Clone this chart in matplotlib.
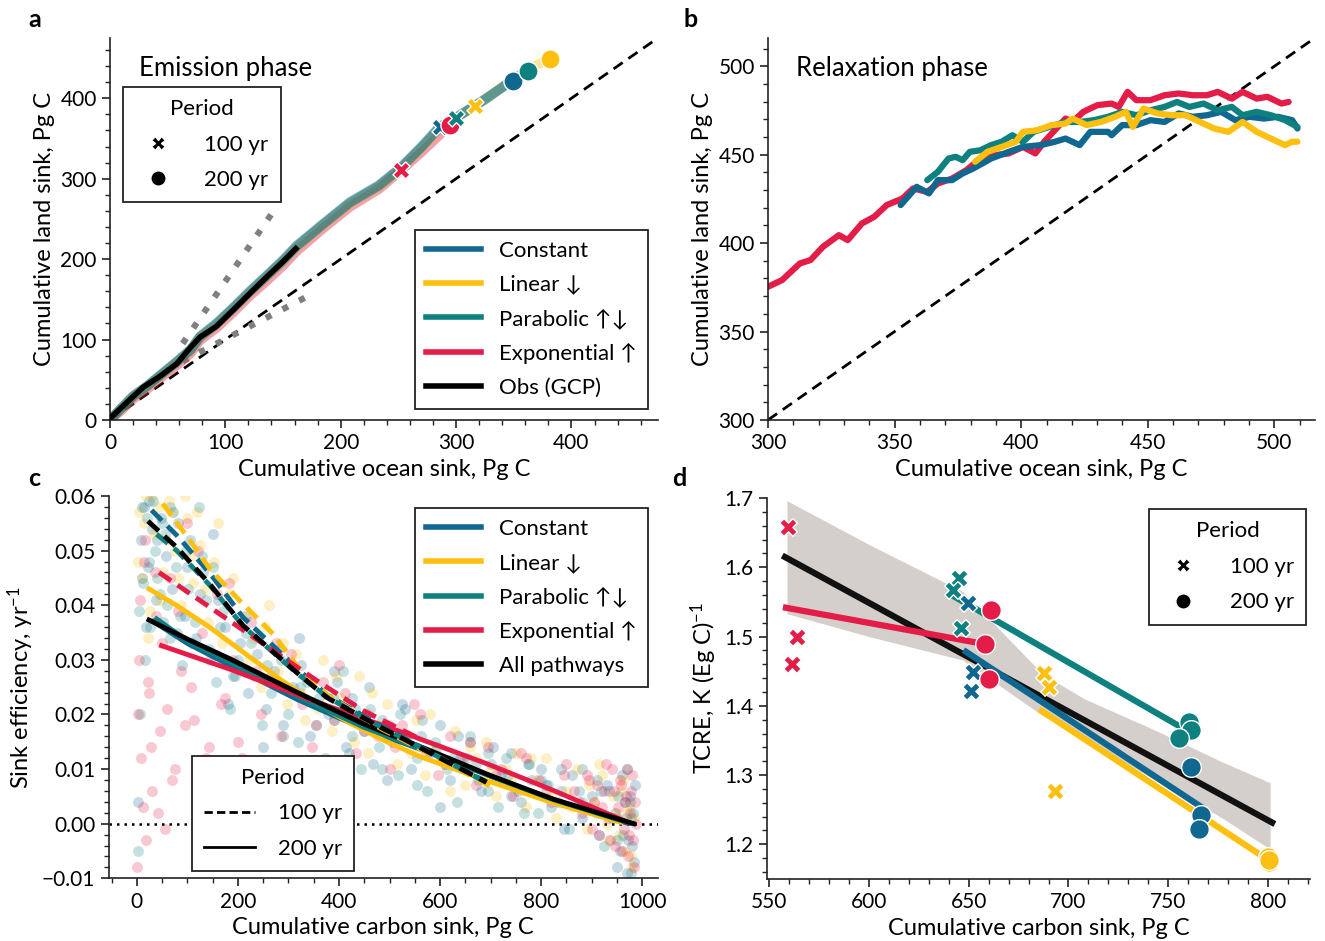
import numpy as np
import matplotlib
matplotlib.use('Agg')
import matplotlib.pyplot as plt
from matplotlib.lines import Line2D
from matplotlib.ticker import MultipleLocator

plt.rcParams['font.family'] = ['Lato', 'DejaVu Sans']
plt.rcParams['mathtext.fontset'] = 'custom'
plt.rcParams['mathtext.rm'] = 'Lato'
plt.rcParams['mathtext.it'] = 'Lato:italic'
plt.rcParams['mathtext.default'] = 'regular'

# ---------------- colours / names ----------------
pathways = ['Constant', 'Linear ↓', 'Parabolic ↑↓', 'Exponential ↑']
colors = ['#10678f', '#fdc010', '#0e8080', '#e41c48']

# ---------------- panel a: emission phase ----------------
a_const_x = [0, 10, 20, 32, 43, 58, 70, 78, 92, 107, 121, 136, 150, 162, 183, 208, 233, 252, 270, 286, 300, 326, 349]
a_const_y = [0, 15, 30, 42, 55, 73, 88, 104, 120, 140, 160, 180, 199, 217, 242, 271, 292, 314, 340, 365, 376, 400, 422]
a_lin_x = [0, 10, 20, 32, 43, 58, 70, 78, 92, 107, 121, 136, 150, 162, 183, 208, 233, 252, 270, 286, 300, 316, 340, 362, 381]
a_lin_y = [0, 14, 29, 41, 54, 72, 86, 103, 118, 139, 158, 178, 197, 215, 240, 269, 290, 312, 338, 362, 375, 390, 414, 436, 449]
a_par_x = [0, 10, 20, 32, 43, 58, 70, 78, 92, 107, 121, 136, 150, 162, 183, 208, 233, 252, 270, 286, 300, 326, 349, 362]
a_par_y = [0, 15, 29, 42, 55, 72, 87, 103, 119, 139, 159, 179, 198, 216, 241, 270, 291, 313, 339, 364, 376, 399, 423, 434]
a_exp_x = [0, 10, 20, 32, 43, 58, 70, 78, 92, 107, 121, 136, 150, 162, 183, 208, 233, 252, 270, 295]
a_exp_y = [0, 12, 26, 38, 51, 68, 83, 99, 114, 134, 154, 173, 192, 210, 236, 265, 287, 310, 333, 367]
a_obs_x = [0, 20, 29, 43, 58, 69, 78, 92, 107, 121, 136, 150, 161]
a_obs_y = [2, 29, 41, 54, 70, 89, 103, 116, 137, 157, 178, 197, 213]
a_dot_up_x = [63, 140]
a_dot_up_y = [95, 256]
a_dot_lo_x = [63, 177]
a_dot_lo_y = [73, 158]
# 100 yr (x) and 200 yr (o) markers: Constant, Linear, Parabolic, Exponential
a_x100 = [286, 316, 300, 252]
a_y100 = [364, 390, 376, 311]
a_x200 = [349, 381, 362, 295]
a_y200 = [422, 449, 434, 367]

# ---------------- panel b: relaxation phase ----------------
b_exp_x = [300, 305.6, 312.6, 316.8, 321.7, 328.0, 331.5, 337.1, 342.0, 346.9, 353.1, 357.3, 362.9, 367.1,
           372.7, 378.3, 383.9, 389.5, 395.1, 400.7, 405.6, 409.1, 417.5, 420.3, 424.5, 430.1, 435.7, 438.5,
           442.0, 445.5, 451.0, 456.6, 462.2, 467.8, 473.4, 477.6, 483.2, 487.4, 493.0, 497.2, 502.8, 505.6]
b_exp_y = [375.3, 379.1, 388.5, 390.4, 397.9, 404.5, 401.7, 411.1, 414.9, 421.5, 425.2, 430.9, 429.0, 433.7,
           436.5, 441.2, 447.8, 449.7, 450.7, 454.4, 450.7, 457.3, 470.4, 468.5, 474.2, 478.0, 478.9, 477.0,
           485.5, 480.8, 480.8, 483.6, 484.6, 483.6, 483.6, 485.5, 481.7, 485.5, 481.7, 482.7, 478.9, 479.8]
b_const_x = [352.4, 358.7, 363.6, 367.1, 372.7, 376.9, 381.1, 388.1, 395.1, 400.7, 407.7, 413.3, 417.5, 423.1,
             427.3, 434.3, 435.7, 439.9, 445.5, 451.0, 456.6, 462.2, 467.8, 473.4, 479.0, 484.6, 490.2, 495.8,
             501.4, 507.0, 509.1]
b_const_y = [421.5, 431.8, 428.1, 435.6, 435.6, 439.4, 442.2, 447.8, 451.6, 454.4, 455.4, 457.3, 459.1, 455.4,
             462.9, 462.9, 461.0, 466.7, 466.7, 469.5, 468.5, 473.3, 471.4, 472.3, 474.2, 469.5, 471.4, 470.4,
             471.4, 469.5, 464.8]
b_par_x = [362.9, 367.1, 371.3, 374.1, 376.9, 379.7, 383.9, 388.1, 392.3, 396.5, 400.7, 404.9, 409.1, 413.3,
           417.5, 423.1, 428.7, 434.3, 439.9, 445.5, 451.0, 456.6, 461.5, 466.4, 472.0, 477.6, 483.2, 487.4,
           493.0, 498.6, 504.2, 509.1]
b_par_y = [435.6, 440.3, 447.8, 448.8, 446.9, 451.6, 452.5, 455.4, 457.3, 461.0, 457.3, 462.9, 464.8, 466.7,
           468.5, 468.5, 469.5, 471.4, 474.2, 472.3, 475.1, 477.0, 479.8, 477.0, 478.9, 475.1, 477.0, 472.3,
           474.2, 472.3, 469.5, 465.7]
b_lin_x = [381.8, 386.7, 392.3, 397.9, 400.7, 406.3, 411.9, 417.5, 420.3, 425.9, 431.5, 437.1, 441.3, 444.1,
           448.3, 453.8, 459.4, 465.0, 470.6, 476.2, 481.8, 487.4, 493.0, 498.6, 504.2, 507.0, 509.1]
b_lin_y = [446.0, 451.6, 454.4, 457.3, 462.9, 463.8, 466.7, 467.6, 470.4, 466.7, 468.5, 471.4, 474.2, 465.7,
           476.1, 473.3, 472.3, 472.3, 468.5, 464.8, 462.9, 468.5, 462.9, 459.1, 455.4, 457.3, 457.3]

# ---------------- panel c: sink efficiency (ensemble points) ----------------
c_const_x = [3, 8, 15, 22, 30, 38, 48, 58, 70, 82, 95, 105, 118, 130, 145, 160, 175, 190, 205, 220,
             238, 255, 272, 290, 308, 325, 342, 360, 378, 396, 414, 432, 450, 468, 486, 505, 524, 543, 562, 580,
             600, 620, 640, 660, 680, 700, 720, 740, 760, 780, 800, 820, 840, 860, 880, 900, 915, 930, 945, 955,
             965, 972, 978, 983,
             10, 18, 25, 40, 52, 65, 80, 100, 125, 150, 180, 215, 250, 285, 320, 355, 390, 425, 460, 495,
             530, 565, 600, 635, 670, 705, 740, 775, 810, 845, 880, 910, 935, 950, 960, 968, 975, 980, 985, 970]
c_const_y = [0.004, 0.052, 0.058, 0.047, 0.054, 0.041, 0.056, 0.049, 0.043, 0.055,
             0.038, 0.052, 0.034, 0.046, 0.030, 0.041, 0.036, 0.027, 0.033, 0.024,
             0.031, 0.021, 0.028, 0.018, 0.025, 0.029, 0.016, 0.023, 0.020, 0.026,
             0.014, 0.021, 0.017, 0.011, 0.019, 0.015, 0.022, 0.010, 0.016, 0.013,
             0.018, 0.008, 0.012, 0.015, 0.006, 0.011, 0.009, 0.013, 0.004, 0.008,
             0.010, 0.003, 0.006, 0.009, 0.001, 0.005, -0.002, 0.007, 0.002, -0.005,
             0.004, -0.003, 0.001, -0.007,
             0.045, 0.036, 0.059, 0.052, 0.037, 0.058, 0.035, 0.047, 0.042, 0.053,
             0.022, 0.038, 0.014, 0.030, 0.034, 0.011, 0.028, 0.023, 0.025, 0.008,
             0.021, 0.019, 0.003, 0.016, 0.011, 0.014, 0.005, 0.011, 0.007, -0.001,
             0.010, 0.002, 0.006, -0.008, 0.009, 0.001, 0.005, -0.004, 0.007, -0.009]
c_lin_x = [5, 10, 18, 26, 34, 42, 52, 63, 75, 88, 100, 112, 125, 140, 152, 168, 182, 198, 214, 230,
           246, 262, 280, 298, 315, 332, 350, 368, 386, 404, 422, 440, 458, 476, 495, 514, 532, 552, 570, 590,
           610, 630, 650, 670, 690, 710, 730, 750, 770, 790, 810, 830, 850, 870, 890, 905, 920, 935, 948, 958,
           966, 973, 979, 984,
           3, 14, 22, 30, 46, 58, 70, 82, 95, 108, 120, 135, 160, 190, 222, 254, 290, 324, 358, 394,
           430, 466, 504, 542, 580, 620, 660, 700, 740, 780, 820, 860, 895, 915, 930, 942, 953, 962, 970, 977]
c_lin_y = [0.057, 0.045, 0.060, 0.039, 0.053, 0.058, 0.046, 0.059, 0.050, 0.040,
           0.056, 0.044, 0.051, 0.037, 0.048, 0.033, 0.042, 0.029, 0.038, 0.034,
           0.025, 0.040, 0.028, 0.022, 0.031, 0.019, 0.026, 0.030, 0.017, 0.023,
           0.020, 0.027, 0.013, 0.018, 0.022, 0.011, 0.016, 0.019, 0.009, 0.014,
           0.011, 0.017, 0.007, 0.012, 0.015, 0.005, 0.010, 0.013, 0.003, 0.008,
           0.012, 0.001, 0.006, 0.010, -0.001, 0.004, 0.009, -0.003, 0.002, 0.006,
           -0.005, 0.003, -0.008, 0.001,
           0.048, 0.055, 0.034, 0.060, 0.041, 0.052, 0.057, 0.045, 0.060, 0.049,
           0.057, 0.043, 0.055, 0.045, 0.030, 0.036, 0.033, 0.024, 0.021, 0.027,
           0.015, 0.024, 0.017, 0.013, 0.020, 0.006, 0.014, 0.010, 0.008, 0.012,
           0.005, 0.003, 0.007, 0.011, 0.000, 0.005, -0.002, 0.008, 0.002, -0.006]
c_par_x = [2, 7, 13, 20, 27, 36, 45, 55, 66, 78, 90, 102, 115, 128, 142, 156, 170, 185, 200, 216,
           232, 248, 265, 282, 300, 318, 336, 354, 372, 390, 408, 426, 444, 462, 480, 498, 517, 536, 555, 574,
           594, 614, 634, 654, 674, 694, 714, 734, 754, 774, 794, 814, 834, 854, 874, 894, 910, 925, 940, 952,
           962, 970, 977, 982,
           4, 10, 16, 24, 32, 40, 50, 60, 72, 85, 97, 110, 123, 136, 150, 165, 195, 225, 258, 290,
           322, 355, 388, 420, 452, 486, 520, 555, 590, 625, 660, 695, 730, 765, 800, 840, 880, 918, 950, 975]
c_par_y = [-0.005, 0.020, 0.044, 0.056, 0.036, 0.050, 0.042, 0.053, 0.034, 0.047,
           0.029, 0.043, 0.037, 0.049, 0.032, 0.026, 0.039, 0.021, 0.030, 0.035,
           0.027, 0.018, 0.024, 0.032, 0.020, 0.015, 0.026, 0.022, 0.012, 0.019,
           0.028, 0.016, 0.010, 0.021, 0.014, 0.018, 0.009, 0.016, 0.012, 0.006,
           0.014, 0.010, 0.004, 0.012, 0.008, 0.013, 0.003, 0.009, 0.006, 0.011,
           0.002, 0.007, 0.004, -0.001, 0.006, 0.003, 0.008, -0.004, 0.001, 0.005,
           -0.002, 0.010, -0.009, 0.002,
           0.039, 0.058, 0.030, 0.048, 0.059, 0.045, 0.055, 0.040, 0.057, 0.038,
           0.050, 0.033, 0.058, 0.041, 0.047, 0.036, 0.027, 0.033, 0.029, 0.016,
           0.025, 0.018, 0.023, 0.013, 0.019, 0.010, 0.020, 0.007, 0.015, 0.012,
           0.016, 0.006, 0.012, 0.002, 0.008, 0.010, 0.004, 0.006, -0.003, 0.004]
c_exp_x = [0, 4, 9, 14, 19, 25, 31, 38, 46, 55, 65, 76, 88, 100, 114, 128, 143, 158, 174, 190,
           208, 226, 245, 265, 285, 305, 326, 347, 368, 390, 412, 434, 456, 478, 500, 524, 548, 572, 596, 620,
           645, 670, 695, 720, 745, 770, 795, 820, 845, 865, 880, 895, 905, 915, 925, 932, 940, 946, 952, 958,
           963, 968, 972, 976, 979, 982, 985, 987,
           2, 6, 12, 17, 23, 28, 35, 42, 50, 60, 70, 82, 95, 108, 122, 136, 150, 166, 182, 200,
           236, 275, 315, 355, 400, 450, 510, 560, 610, 660, 710, 760, 810, 850, 875, 890, 900, 910, 920, 928,
           936, 944, 950, 955, 960, 965, 970, 974, 978, 983]
c_exp_y = [-0.008, 0.030, 0.012, 0.048, -0.003, 0.024, 0.006, 0.038, 0.017, -0.001,
           0.045, 0.010, 0.028, 0.055, 0.019, 0.035, 0.014, 0.042, 0.023, 0.030,
           0.012, 0.037, 0.020, 0.027, 0.016, 0.031, 0.022, 0.014, 0.026, 0.019,
           0.024, 0.013, 0.020, 0.016, 0.010, 0.018, 0.022, 0.013, 0.009, 0.016,
           0.012, 0.007, 0.014, 0.010, 0.005, 0.012, 0.008, 0.004, 0.009, 0.006,
           0.002, 0.008, 0.004, -0.002, 0.006, 0.001, 0.010, -0.004, 0.003, 0.007,
           -0.001, 0.005, -0.006, 0.002, 0.009, -0.003, 0.004, 0.000,
           0.020, 0.041, 0.003, 0.052, 0.026, 0.014, 0.046, 0.002, 0.033, 0.021,
           0.008, 0.039, 0.018, 0.025, 0.050, 0.012, 0.031, 0.022, 0.044, 0.015,
           0.028, 0.033, 0.024, 0.018, 0.029, 0.017, 0.014, 0.020, 0.011, 0.015,
           0.009, 0.013, 0.006, 0.011, 0.004, 0.009, -0.001, 0.007, 0.003, 0.011,
           -0.003, 0.006, 0.001, 0.008, -0.005, 0.004, 0.010, -0.002, 0.006, -0.008]

# fitted efficiency curves, 200 yr (solid)
c200_const_x = [33, 100, 184, 316, 448, 580, 700, 824, 970]
c200_const_y = [0.0370, 0.0330, 0.0290, 0.0228, 0.0174, 0.0130, 0.0087, 0.0044, 0.0001]
c200_lin_x = [24, 80, 145, 215, 284, 350, 420, 490, 560, 692, 824, 956]
c200_lin_y = [0.0430, 0.0399, 0.0359, 0.0311, 0.0264, 0.0223, 0.0185, 0.0152, 0.0123, 0.0079, 0.0038, 0.0003]
c200_par_x = [39, 100, 184, 316, 448, 580, 700, 824, 975]
c200_par_y = [0.0375, 0.0335, 0.0296, 0.0234, 0.0177, 0.0131, 0.0087, 0.0044, 0.0001]
c200_exp_x = [49, 184, 349, 514, 692, 824, 970]
c200_exp_y = [0.0326, 0.0283, 0.0225, 0.0171, 0.0110, 0.0061, 0.0003]
c200_all_x = [24, 100, 184, 316, 448, 580, 700, 824, 983]
c200_all_y = [0.0373, 0.0338, 0.0302, 0.0241, 0.0183, 0.0134, 0.0088, 0.0045, 0.0000]
# fitted efficiency curves, 100 yr (dashed)
c100_const_x = [29, 79, 145, 210, 316, 376, 481, 534, 600, 690]
c100_const_y = [0.0574, 0.0528, 0.0458, 0.0378, 0.0285, 0.0236, 0.0180, 0.0154, 0.0121, 0.0077]
c100_lin_x = [51, 100, 145, 204, 270, 316, 376, 481, 600, 700]
c100_lin_y = [0.0586, 0.0525, 0.0466, 0.0408, 0.0347, 0.0290, 0.0236, 0.0175, 0.0118, 0.0068]
c100_par_x = [39, 79, 145, 210, 316, 376, 481, 534, 600, 690]
c100_par_y = [0.0530, 0.0500, 0.0436, 0.0362, 0.0276, 0.0232, 0.0178, 0.0153, 0.0121, 0.0076]
c100_exp_x = [44, 145, 244, 356, 448, 554]
c100_exp_y = [0.0460, 0.0396, 0.0333, 0.0262, 0.0207, 0.0158]
c100_all_x = [22, 79, 145, 210, 316, 376, 481, 534, 600, 692]
c100_all_y = [0.0554, 0.0506, 0.0438, 0.0363, 0.0277, 0.0231, 0.0177, 0.0152, 0.0120, 0.0076]

# ---------------- panel d: TCRE ----------------
d_const_x100 = [649.7, 652.2, 651.0]
d_const_y100 = [1.548, 1.449, 1.421]
d_const_x200 = [761.6, 766.4, 765.6]
d_const_y200 = [1.312, 1.242, 1.222]
d_lin_x100 = [687.6, 690.4, 693.1]
d_lin_y100 = [1.448, 1.427, 1.277]
d_lin_x200 = [800.0, 800.5, 800.2]
d_lin_y200 = [1.182, 1.175, 1.178]
d_par_x100 = [645.0, 642.2, 646.2]
d_par_y100 = [1.585, 1.567, 1.513]
d_par_x200 = [760.3, 761.6, 755.3]
d_par_y200 = [1.376, 1.365, 1.353]
d_exp_x100 = [559.5, 564.0, 561.5]
d_exp_y100 = [1.658, 1.499, 1.460]
d_exp_x200 = [661.4, 658.4, 660.0]
d_exp_y200 = [1.539, 1.489, 1.439]
# confidence band of the all-pathway regression
d_band_x = [559, 600, 647, 687, 708, 744, 777, 801]
d_band_lo = [1.533, 1.500, 1.466, 1.386, 1.352, 1.292, 1.238, 1.193]
d_band_hi = [1.696, 1.633, 1.565, 1.446, 1.410, 1.364, 1.319, 1.289]

# ================= figure =================
fig = plt.figure(figsize=(13.25, 9.41), dpi=100)
axa = fig.add_axes([0.0830, 0.5537, 0.4136, 0.4060])
axb = fig.add_axes([0.5796, 0.5537, 0.4128, 0.4060])
axc = fig.add_axes([0.0819, 0.0666, 0.4147, 0.4063])
axd = fig.add_axes([0.5789, 0.0659, 0.4098, 0.4049])

TICK = 15
LAB = 17
LEG = 16


def style(ax):
    for s in ['top', 'right']:
        ax.spines[s].set_visible(False)
    for s in ['left', 'bottom']:
        ax.spines[s].set_linewidth(1.2)
        ax.spines[s].set_color('#222222')
    ax.tick_params(which='major', length=6, width=1.2, labelsize=TICK, color='#222222')
    ax.tick_params(which='minor', length=3.5, width=1.0, color='#222222')


def leg_frame(leg):
    fr = leg.get_frame()
    fr.set_edgecolor('#222222')
    fr.set_linewidth(1.3)
    fr.set_alpha(1)


# ---- panel a ----
ax = axa
ax.plot([0, 475], [0, 475], ls=(0, (4, 2.5)), color='black', lw=2, zorder=1)
ax.plot(a_dot_up_x, a_dot_up_y, ls=(0, (1, 2)), color='#808080', lw=4.5, zorder=1)
ax.plot(a_dot_lo_x, a_dot_lo_y, ls=(0, (1, 2)), color='#808080', lw=4.5, zorder=1)
for xs, ys, c in [(a_exp_x, a_exp_y, colors[3]), (a_lin_x, a_lin_y, colors[1]),
                  (a_par_x, a_par_y, colors[2]), (a_const_x, a_const_y, colors[0])]:
    ax.plot(xs, ys, color=c, lw=7, alpha=0.42, solid_capstyle='round', zorder=2)
ax.plot(a_obs_x, a_obs_y, color='black', lw=4, zorder=3)
ax.scatter([a_x100[0]], [a_y100[0]], marker='X', s=150, color=colors[0], edgecolor='white', lw=1, zorder=4)
ax.scatter([a_x200[3]], [a_y200[3]], marker='o', s=190, color=colors[3], edgecolor='white', lw=1, zorder=4)
for i in [3, 2, 1]:
    ax.scatter([a_x100[i]], [a_y100[i]], marker='X', s=150, color=colors[i], edgecolor='white', lw=1, zorder=5)
for i in [0, 2, 1]:
    ax.scatter([a_x200[i]], [a_y200[i]], marker='o', s=190, color=colors[i], edgecolor='white', lw=1, zorder=5)
ax.set_xlim(0, 475)
ax.set_ylim(0, 475)
ax.xaxis.set_major_locator(MultipleLocator(100))
ax.xaxis.set_minor_locator(MultipleLocator(20))
ax.yaxis.set_major_locator(MultipleLocator(100))
ax.yaxis.set_minor_locator(MultipleLocator(20))
style(ax)
ax.set_xlabel('Cumulative ocean sink, Pg C', fontsize=LAB)
ax.set_ylabel('Cumulative land sink, Pg C', fontsize=LAB)
ax.text(0.053, 0.92, 'Emission phase', transform=ax.transAxes, fontsize=18.5, va='center')
h_per = [Line2D([], [], marker='X', ls='none', color='black', markersize=10, markeredgecolor='white'),
         Line2D([], [], marker='o', ls='none', color='black', markersize=11, markeredgecolor='white')]
per_kw = dict(title='Period', borderaxespad=0, fontsize=LEG, title_fontsize=LEG, fancybox=False,
              handletextpad=1.1, borderpad=0.55, labelspacing=0.7, handlelength=2.0)
leg1 = ax.legend(h_per, ['100 yr', '200 yr'], loc='upper left', bbox_to_anchor=(0.024, 0.872), **per_kw)
leg_frame(leg1)
ax.add_artist(leg1)
path_kw = dict(borderaxespad=0, fontsize=LEG, fancybox=False, handlelength=2.5, handletextpad=0.8,
               borderpad=0.5, labelspacing=0.62)
h_path = [Line2D([], [], color=c, lw=4) for c in colors] + [Line2D([], [], color='black', lw=4)]
leg2 = ax.legend(h_path, pathways + ['Obs (GCP)'], loc='lower right', bbox_to_anchor=(0.982, 0.029), **path_kw)
leg_frame(leg2)

# ---- panel b ----
ax = axb
ax.plot([300, 516], [300, 516], ls=(0, (4, 2.5)), color='black', lw=2, zorder=1)
ax.plot(b_exp_x, b_exp_y, color=colors[3], lw=4.5, solid_capstyle='round', zorder=2)
ax.plot(b_const_x, b_const_y, color=colors[0], lw=4.5, solid_capstyle='round', zorder=3)
ax.plot(b_par_x, b_par_y, color=colors[2], lw=4.5, solid_capstyle='round', zorder=3)
ax.plot(b_lin_x, b_lin_y, color=colors[1], lw=4.5, solid_capstyle='round', zorder=4)
ax.set_xlim(300, 516)
ax.set_ylim(300, 516)
ax.xaxis.set_major_locator(MultipleLocator(50))
ax.xaxis.set_minor_locator(MultipleLocator(10))
ax.yaxis.set_major_locator(MultipleLocator(50))
ax.yaxis.set_minor_locator(MultipleLocator(10))
style(ax)
ax.set_xlabel('Cumulative ocean sink, Pg C', fontsize=LAB)
ax.set_ylabel('Cumulative land sink, Pg C', fontsize=LAB)
ax.text(0.051, 0.92, 'Relaxation phase', transform=ax.transAxes, fontsize=18.5, va='center')

# ---- panel c ----
ax = axc
for xs, ys, c in [(c_const_x, c_const_y, colors[0]), (c_lin_x, c_lin_y, colors[1]),
                  (c_par_x, c_par_y, colors[2]), (c_exp_x, c_exp_y, colors[3])]:
    ax.scatter(xs, ys, s=62, color=c, alpha=0.24, lw=0, zorder=1)
ax.axhline(0, color='black', ls=(0, (1, 2)), lw=1.8, zorder=2)
sol = [(c200_const_x, c200_const_y, colors[0]), (c200_lin_x, c200_lin_y, colors[1]),
       (c200_par_x, c200_par_y, colors[2]), (c200_exp_x, c200_exp_y, colors[3]),
       (c200_all_x, c200_all_y, 'black')]
das = [(c100_const_x, c100_const_y, colors[0]), (c100_lin_x, c100_lin_y, colors[1]),
       (c100_par_x, c100_par_y, colors[2]), (c100_exp_x, c100_exp_y, colors[3]),
       (c100_all_x, c100_all_y, 'black')]
for xs, ys, c in sol:
    ax.plot(xs, ys, color=c, lw=3.5, zorder=3, solid_joinstyle='round')
for xs, ys, c in das:
    ax.plot(xs, ys, color=c, lw=3.5, ls=(0, (3, 1.6)), zorder=3)
ax.set_xlim(-56, 1031)
ax.set_ylim(-0.01, 0.06)
ax.xaxis.set_major_locator(MultipleLocator(200))
ax.xaxis.set_minor_locator(MultipleLocator(50))
ax.yaxis.set_major_locator(MultipleLocator(0.01))
ax.yaxis.set_minor_locator(MultipleLocator(0.002))
ax.yaxis.set_major_formatter(matplotlib.ticker.FuncFormatter(lambda v, p: ('%.2f' % v).replace('-', '\u2212')))
style(ax)
ax.set_xlabel('Cumulative carbon sink, Pg C', fontsize=LAB)
ax.set_ylabel('Sink efficiency, yr$^{-1}$', fontsize=LAB)
h_path2 = [Line2D([], [], color=c, lw=4) for c in colors] + [Line2D([], [], color='black', lw=4)]
leg3 = ax.legend(h_path2, pathways + ['All pathways'], loc='upper right', bbox_to_anchor=(0.982, 0.969), **path_kw)
leg_frame(leg3)
ax.add_artist(leg3)
h_per2 = [Line2D([], [], color='black', lw=2, ls=(0, (3, 1.5))), Line2D([], [], color='black', lw=2)]
per_kw2 = dict(per_kw)
per_kw2.update(handlelength=2.3, handletextpad=1.0)
leg4 = ax.legend(h_per2, ['100 yr', '200 yr'], loc='lower left', bbox_to_anchor=(0.152, 0.019), **per_kw2)
leg_frame(leg4)

# ---- panel d ----
ax = axd
ax.fill_between(d_band_x, d_band_lo, d_band_hi, color='#d5cfcc', lw=0, zorder=1)
allx = np.array(d_const_x100 + d_const_x200 + d_lin_x100 + d_lin_x200 + d_par_x100 + d_par_x200
                + d_exp_x100 + d_exp_x200)
ally = np.array(d_const_y100 + d_const_y200 + d_lin_y100 + d_lin_y200 + d_par_y100 + d_par_y200
                + d_exp_y100 + d_exp_y200)
p = np.polyfit(allx, ally, 1)
xx = np.array([allx.min() - 1.5, allx.max() + 1.5])
ax.plot(xx, np.polyval(p, xx), color='#111111', lw=4.5, zorder=2)
groups = [(d_const_x100, d_const_y100, d_const_x200, d_const_y200, colors[0]),
          (d_lin_x100, d_lin_y100, d_lin_x200, d_lin_y200, colors[1]),
          (d_par_x100, d_par_y100, d_par_x200, d_par_y200, colors[2]),
          (d_exp_x100, d_exp_y100, d_exp_x200, d_exp_y200, colors[3])]
for x1, y1, x2, y2, c in groups:
    gx = np.array(x1 + x2)
    gy = np.array(y1 + y2)
    pg = np.polyfit(gx, gy, 1)
    gxx = np.array([gx.min() - 1, gx.max()])
    ax.plot(gxx, np.polyval(pg, gxx), color=c, lw=4.5, zorder=3)
for x1, y1, x2, y2, c in groups:
    ax.scatter(x1, y1, marker='X', s=160, color=c, edgecolor='white', lw=1, zorder=4)
    ax.scatter(x2, y2, marker='o', s=200, color=c, edgecolor='white', lw=1, zorder=4)
ax.set_xlim(549, 821)
ax.set_ylim(1.15, 1.70)
ax.xaxis.set_major_locator(MultipleLocator(50))
ax.xaxis.set_minor_locator(MultipleLocator(10))
ax.yaxis.set_major_locator(MultipleLocator(0.1))
ax.yaxis.set_minor_locator(MultipleLocator(0.02))
ax.yaxis.set_major_formatter(matplotlib.ticker.FormatStrFormatter('%.1f'))
style(ax)
ax.set_xlabel('Cumulative carbon sink, Pg C', fontsize=LAB)
ax.set_ylabel('TCRE, K (Eg C)$^{-1}$', fontsize=LAB)
leg5 = ax.legend(h_per, ['100 yr', '200 yr'], loc='upper right', bbox_to_anchor=(0.993, 0.971), **per_kw)
leg_frame(leg5)

for lbl, x, y in [('a', 0.026, 0.979), ('b', 0.521, 0.979), ('c', 0.026, 0.492), ('d', 0.513, 0.492)]:
    fig.text(x, y, lbl, fontsize=18, fontweight='bold', ha='center', va='center')

fig.savefig('out.png', dpi=100)
